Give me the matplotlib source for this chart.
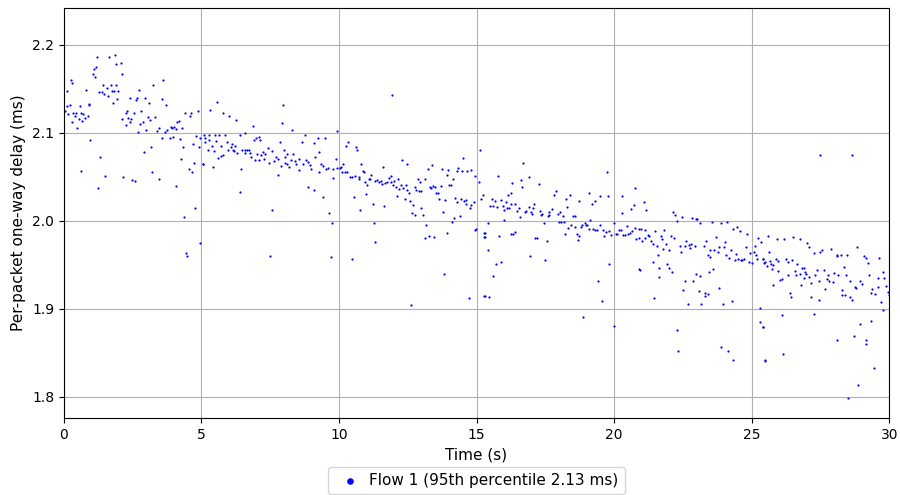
import matplotlib
matplotlib.use("Agg")
import matplotlib.pyplot as plt
import numpy as np

# per-packet samples, (time s, delay ms)
seg_a = [
    (1.22, 2.186), (1.65, 2.186), (1.87, 2.188), (2.06, 2.179), (1.90, 2.178), (1.15, 2.175),
    (1.10, 2.173), (1.07, 2.167), (1.14, 2.164), (2.10, 2.167), (0.25, 2.160), (0.29, 2.157),
    (0.12, 2.148), (0.80, 2.149), (1.41, 2.154), (1.55, 2.151), (1.71, 2.154), (1.89, 2.154),
    (1.28, 2.146), (1.38, 2.146), (1.45, 2.144), (1.60, 2.142), (1.75, 2.147), (1.82, 2.147),
    (1.98, 2.148), (2.74, 2.149), (1.94, 2.139), (1.77, 2.134), (2.41, 2.140), (2.64, 2.140),
    (2.62, 2.137), (2.93, 2.140), (3.09, 2.134), (3.25, 2.154), (3.61, 2.160), (3.58, 2.139),
    (3.71, 2.132), (0.10, 2.130), (0.23, 2.132), (0.58, 2.130), (0.90, 2.132), (0.93, 2.133),
    (0.05, 2.125), (0.15, 2.121), (0.32, 2.123), (0.45, 2.123), (0.61, 2.122), (0.70, 2.121),
    (0.39, 2.119), (0.56, 2.116), (0.65, 2.113), (0.75, 2.117), (0.87, 2.119), (0.28, 2.112),
    (0.48, 2.106), (2.24, 2.122), (2.29, 2.125), (2.12, 2.116), (2.34, 2.117), (2.45, 2.116),
    (2.39, 2.112), (2.25, 2.109), (2.55, 2.122), (2.80, 2.125), (2.86, 2.112), (2.76, 2.110),
    (3.07, 2.118), (3.13, 2.115), (3.32, 2.118), (2.70, 2.101), (2.99, 2.103), (3.39, 2.102),
    (3.47, 2.105), (3.55, 2.094), (3.68, 2.101), (3.76, 2.103), (3.89, 2.107), (3.93, 2.105),
    (3.99, 2.107), (4.12, 2.112), (4.17, 2.113), (4.08, 2.104), (4.29, 2.105), (4.41, 2.122),
    (4.58, 2.119), (4.61, 2.122), (4.87, 2.125), (3.85, 2.094), (3.95, 2.095), (4.23, 2.093),
    (4.80, 2.096), (4.95, 2.094), (5.09, 2.098), (4.70, 2.087), (4.90, 2.084), (4.33, 2.084),
    (3.15, 2.084), (2.90, 2.078), (0.96, 2.092), (1.32, 2.072), (4.25, 2.070), (4.74, 2.066),
    (5.07, 2.064), (4.55, 2.059), (4.64, 2.056), (3.22, 2.055), (3.44, 2.047), (4.06, 2.039),
    (0.63, 2.057), (1.48, 2.051), (2.16, 2.050), (2.48, 2.046), (2.58, 2.045), (1.25, 2.037),
    (4.76, 2.014), (4.38, 2.004), (4.93, 1.975), (4.45, 1.963), (4.48, 1.960),
]
seg_b = [
    (5.58, 2.135), (5.32, 2.126), (5.79, 2.122), (6.01, 2.119), (6.25, 2.114), (6.87, 2.108),
    (7.98, 2.132), (7.94, 2.111), (8.29, 2.103), (9.94, 2.102), (5.12, 2.094), (5.26, 2.098),
    (5.48, 2.097), (5.65, 2.097), (5.87, 2.097), (6.39, 2.097), (6.57, 2.100), (5.14, 2.089),
    (5.29, 2.092), (5.54, 2.091), (5.38, 2.085), (5.72, 2.085), (5.93, 2.089), (6.11, 2.087),
    (6.23, 2.085), (5.22, 2.081), (5.44, 2.079), (5.61, 2.071), (5.71, 2.074), (5.79, 2.075),
    (5.96, 2.081), (6.06, 2.084), (6.13, 2.081), (6.19, 2.079), (6.30, 2.077), (6.49, 2.080),
    (6.57, 2.080), (6.65, 2.081), (6.74, 2.081), (6.77, 2.077), (6.60, 2.077), (6.91, 2.092),
    (6.98, 2.094), (7.09, 2.095), (7.13, 2.092), (6.81, 2.073), (6.93, 2.069), (7.08, 2.069),
    (7.01, 2.076), (7.18, 2.075), (7.24, 2.078), (7.32, 2.076), (7.43, 2.083), (7.55, 2.079),
    (7.28, 2.070), (7.44, 2.066), (7.62, 2.068), (7.71, 2.072), (7.77, 2.070), (7.87, 2.090),
    (8.00, 2.081), (8.05, 2.073), (8.12, 2.076), (8.05, 2.066), (8.12, 2.064), (8.17, 2.061),
    (7.90, 2.062), (8.24, 2.069), (8.34, 2.076), (8.40, 2.068), (8.45, 2.064), (8.56, 2.070),
    (8.56, 2.058), (8.64, 2.090), (8.78, 2.098), (8.70, 2.064), (8.80, 2.069), (8.87, 2.067),
    (8.96, 2.063), (9.00, 2.059), (9.14, 2.072), (9.26, 2.056), (9.29, 2.078), (9.22, 2.094),
    (9.10, 2.088), (9.48, 2.094), (9.36, 2.064), (9.43, 2.062), (9.53, 2.059), (9.60, 2.060),
    (9.79, 2.059), (9.88, 2.070), (9.91, 2.060), (10.04, 2.060), (10.11, 2.056), (10.16, 2.064),
    (5.05, 2.064), (5.42, 2.061), (6.45, 2.059), (7.80, 2.052), (9.78, 2.049), (8.89, 2.038),
    (9.08, 2.035), (9.43, 2.027), (6.41, 2.033), (9.65, 2.009), (9.75, 1.997), (7.57, 2.012),
    (7.48, 1.960), (9.72, 1.959),
]
seg_c = [
    (10.27, 2.085), (10.33, 2.089), (10.62, 2.084), (10.65, 2.080), (10.09, 2.061), (10.21, 2.055),
    (10.29, 2.055), (10.40, 2.050), (10.46, 2.050), (10.58, 2.051), (10.74, 2.050), (10.72, 2.047),
    (10.81, 2.065), (10.87, 2.057), (10.91, 2.055), (11.01, 2.041), (10.93, 2.044), (11.08, 2.047),
    (11.15, 2.052), (11.13, 2.048), (11.30, 2.045), (11.38, 2.046), (11.46, 2.044), (11.54, 2.045),
    (11.56, 2.042), (11.61, 2.061), (11.68, 2.043), (11.76, 2.044), (11.83, 2.049), (11.88, 2.051),
    (11.89, 2.044), (11.98, 2.041), (12.01, 2.045), (12.07, 2.038), (12.17, 2.036), (12.15, 2.048),
    (12.24, 2.041), (12.30, 2.069), (12.34, 2.037), (12.42, 2.041), (12.46, 2.035), (12.49, 2.065),
    (12.56, 2.032), (12.78, 2.038), (12.81, 2.035), (12.88, 2.047), (12.94, 2.044), (12.92, 2.034),
    (12.97, 2.034), (13.11, 2.047), (13.24, 2.059), (13.39, 2.063), (13.29, 2.038), (13.33, 2.037),
    (13.43, 2.040), (13.50, 2.038), (13.54, 2.032), (13.60, 2.032), (13.62, 2.025), (13.72, 2.040),
    (13.76, 2.059), (13.91, 2.052), (13.98, 2.058), (14.01, 2.041), (14.08, 2.041), (14.13, 2.047),
    (14.28, 2.057), (14.34, 2.060), (14.47, 2.057), (14.50, 2.071), (14.65, 2.057), (14.79, 2.058),
    (14.94, 2.051), (15.08, 2.044), (15.14, 2.080), (15.25, 2.029), (15.17, 2.025), (13.85, 2.024),
    (14.23, 2.026), (14.30, 2.021), (14.42, 2.025), (14.56, 2.023), (14.60, 2.024), (14.63, 2.019),
    (14.75, 2.014), (14.81, 2.018), (14.89, 2.021), (12.10, 2.028), (12.39, 2.025), (12.58, 2.022),
    (12.70, 2.018), (12.66, 2.009), (12.75, 2.007), (12.99, 2.014), (13.07, 2.007), (11.23, 2.019),
    (11.65, 2.017), (10.98, 2.030), (10.55, 2.027), (10.76, 2.012), (11.26, 1.997), (11.32, 1.976),
    (10.48, 1.956), (13.18, 1.995), (13.13, 1.980), (13.27, 1.983), (13.46, 1.982), (13.79, 2.010),
    (13.94, 1.986), (14.11, 1.999), (14.17, 2.003), (14.39, 2.005), (14.93, 1.990), (14.97, 1.991),
    (15.28, 1.986), (15.26, 1.982), (13.82, 1.940), (14.72, 1.912), (12.62, 1.904), (15.28, 1.915),
    (11.93, 2.143),
]
seg_d = [
    (16.70, 2.066), (15.78, 2.051), (16.92, 2.050), (19.76, 2.055), (16.29, 2.043), (16.63, 2.046),
    (16.66, 2.038), (17.26, 2.042), (15.56, 2.025), (15.66, 2.022), (15.49, 2.017), (15.59, 2.017),
    (15.76, 2.016), (15.90, 2.024), (15.95, 2.017), (15.98, 2.012), (16.07, 2.021), (16.12, 2.015),
    (16.17, 2.014), (16.15, 2.029), (16.24, 2.019), (16.27, 2.032), (16.39, 2.019), (16.46, 2.011),
    (16.56, 2.015), (16.58, 2.004), (16.76, 2.010), (16.80, 2.011), (16.90, 2.016), (16.97, 2.010),
    (17.01, 2.008), (17.07, 2.014), (17.10, 2.019), (17.30, 2.011), (17.36, 2.007), (17.39, 2.008),
    (17.45, 1.998), (17.58, 2.005), (17.65, 2.006), (17.62, 2.010), (17.75, 2.013), (17.82, 2.029),
    (17.90, 2.034), (17.96, 2.008), (17.99, 1.999), (18.04, 2.010), (18.07, 1.999), (18.13, 2.005),
    (18.18, 1.999), (18.26, 2.025), (18.30, 2.016), (18.40, 2.029), (18.33, 1.992), (18.42, 1.995),
    (18.50, 2.005), (18.57, 2.005), (18.59, 1.993), (18.74, 2.022), (18.79, 1.993), (18.84, 1.995),
    (18.93, 1.998), (18.98, 1.995), (19.03, 1.995), (19.08, 2.032), (19.13, 2.001), (19.10, 1.991),
    (19.20, 2.019), (19.25, 1.991), (19.32, 2.022), (19.32, 1.989), (19.39, 1.989), (19.47, 1.995),
    (19.49, 2.028), (19.59, 1.989), (19.64, 1.983), (19.71, 1.987), (19.78, 2.028), (19.83, 1.988),
    (19.90, 1.984), (19.98, 1.998), (20.07, 1.985), (20.12, 1.985), (20.19, 1.989), (20.24, 1.989),
    (20.29, 2.028), (20.27, 2.009), (20.34, 1.984), (15.40, 1.998), (15.99, 2.001), (15.32, 1.986),
    (15.30, 1.982), (15.83, 1.983), (16.24, 1.985), (16.31, 1.985), (16.38, 1.987), (17.14, 1.980),
    (17.21, 1.980), (17.55, 1.977), (18.23, 1.985), (18.64, 1.985), (18.67, 1.978), (18.72, 1.983),
    (15.42, 1.967), (16.95, 1.960), (17.50, 1.955), (15.71, 1.951), (15.88, 1.953), (19.81, 1.951),
    (15.61, 1.937), (19.42, 1.931), (15.32, 1.915), (15.44, 1.913), (19.56, 1.909), (18.88, 1.891),
    (20.00, 1.880),
]
seg_e = [
    (20.75, 2.037), (21.07, 2.021), (20.72, 2.018), (20.63, 2.013), (21.16, 2.012), (22.14, 2.010),
    (22.23, 2.007), (22.48, 2.004), (22.30, 2.000), (22.82, 2.003), (22.96, 2.002), (23.02, 2.002),
    (23.11, 1.998), (23.56, 1.999), (23.88, 1.998), (24.12, 1.999), (20.46, 1.994), (20.41, 1.984),
    (20.51, 1.985), (20.58, 1.986), (20.66, 1.988), (20.77, 1.992), (20.90, 1.991), (20.98, 1.991),
    (21.11, 1.989), (20.80, 1.979), (20.92, 1.980), (21.02, 1.977), (21.14, 1.980), (21.24, 1.984),
    (21.28, 1.983), (21.33, 1.977), (21.41, 1.974), (21.50, 1.988), (21.55, 1.971), (21.72, 1.983),
    (21.75, 1.979), (21.82, 1.990), (21.89, 1.974), (21.79, 1.968), (22.01, 1.967), (22.08, 1.983),
    (22.18, 1.980), (22.40, 1.971), (22.45, 1.965), (22.57, 1.971), (22.62, 1.977), (22.72, 1.972),
    (22.76, 1.969), (22.79, 1.974), (22.93, 1.971), (23.25, 1.971), (23.35, 1.977), (23.49, 1.967),
    (23.40, 1.961), (23.47, 1.959), (23.64, 1.967), (23.71, 1.981), (23.76, 1.964), (23.81, 1.970),
    (23.98, 1.970), (24.03, 1.976), (24.07, 1.961), (24.17, 1.958), (24.24, 1.967), (24.32, 1.991),
    (24.46, 1.993), (24.56, 1.988), (24.44, 1.962), (24.41, 1.955), (24.51, 1.956), (24.61, 1.955),
    (24.66, 1.955), (24.73, 1.956), (24.78, 1.970), (24.83, 1.985), (24.90, 1.953), (24.95, 1.963),
    (25.00, 1.952), (25.07, 1.965), (25.12, 1.971), (25.14, 1.961), (25.19, 1.957), (25.24, 1.980),
    (25.33, 1.976), (25.43, 1.957), (25.45, 1.952), (21.43, 1.953), (21.60, 1.961), (21.65, 1.946),
    (21.62, 1.936), (21.94, 1.951), (21.99, 1.946), (22.11, 1.942), (20.92, 1.945), (20.95, 1.944),
    (22.59, 1.932), (22.88, 1.931), (22.98, 1.940), (23.13, 1.937), (23.08, 1.920), (23.32, 1.918),
    (23.42, 1.917), (23.30, 1.914), (23.59, 1.945), (23.45, 1.942), (22.49, 1.921), (23.83, 1.923),
    (24.27, 1.909), (21.45, 1.912), (22.67, 1.905), (23.17, 1.905), (23.95, 1.905), (25.29, 1.901),
    (25.31, 1.885), (25.41, 1.879), (22.28, 1.876), (22.33, 1.852), (23.90, 1.856), (24.14, 1.852),
    (24.34, 1.842), (25.47, 1.842),
]
seg_f = [
    (25.60, 1.983), (25.92, 1.979), (26.18, 1.979), (26.50, 1.981), (26.74, 1.979), (27.01, 1.975),
    (27.10, 1.970), (27.27, 1.963), (27.49, 1.965), (27.56, 1.967), (27.90, 1.968), (28.10, 1.960),
    (28.12, 1.961), (28.24, 1.961), (28.46, 1.961), (28.82, 1.970), (29.09, 1.960), (29.14, 1.958),
    (29.24, 1.952), (29.63, 1.958), (29.77, 1.942), (29.82, 1.935), (29.89, 1.926), (29.94, 1.919),
    (29.99, 1.916), (25.63, 1.965), (25.43, 1.957), (25.48, 1.953), (25.55, 1.949), (25.65, 1.954),
    (25.72, 1.951), (25.79, 1.950), (25.89, 1.957), (25.96, 1.954), (25.74, 1.945), (25.94, 1.943),
    (26.25, 1.956), (26.33, 1.953), (26.47, 1.955), (26.64, 1.951), (26.57, 1.943), (26.62, 1.938),
    (26.76, 1.940), (26.84, 1.946), (26.89, 1.946), (26.93, 1.942), (26.98, 1.939), (26.91, 1.935),
    (27.08, 1.936), (27.32, 1.938), (27.39, 1.944), (27.44, 1.932), (27.64, 1.944), (27.74, 1.934),
    (27.78, 1.938), (27.81, 1.932), (27.95, 1.930), (28.00, 1.941), (28.14, 1.938), (28.34, 1.948),
    (28.44, 1.938), (28.56, 1.932), (28.75, 1.925), (28.80, 1.923), (28.95, 1.932), (29.00, 1.928),
    (29.26, 1.938), (29.38, 1.922), (29.48, 1.917), (29.58, 1.935), (29.58, 1.925), (29.33, 1.918),
    (26.04, 1.933), (26.09, 1.934), (25.79, 1.927), (26.31, 1.938), (26.79, 1.927), (27.15, 1.929),
    (27.66, 1.922), (26.40, 1.918), (26.42, 1.913), (27.17, 1.913), (27.46, 1.910), (28.27, 1.921),
    (28.29, 1.916), (28.41, 1.916), (28.58, 1.913), (28.63, 1.910), (29.72, 1.908), (29.77, 1.898),
    (26.11, 1.893), (27.25, 1.894), (25.41, 1.879), (28.95, 1.883), (29.33, 1.886), (28.09, 1.865),
    (28.73, 1.869), (29.14, 1.865), (29.16, 1.860), (26.13, 1.849), (25.50, 1.841), (29.43, 1.833),
    (28.85, 1.813), (28.51, 1.798), (27.49, 2.075), (28.65, 2.075),
]

pts = np.array(seg_a + seg_b + seg_c + seg_d + seg_e + seg_f)
times = pts[:, 0]
delays = pts[:, 1]
label = "Flow 1 (95th percentile 2.13 ms)"

fig, ax = plt.subplots(figsize=(9, 4.95), dpi=100)
ax.scatter(times, delays, s=2.5, c="blue", marker="o", linewidths=0, label=label)

ax.set_xlim(0, 30)
ax.set_ylim(1.776, 2.242)
ax.set_yticks([1.8, 1.9, 2.0, 2.1, 2.2])
ax.grid(True, color="#b0b0b0", lw=0.8)
ax.set_axisbelow(True)
ax.tick_params(labelsize=10)
ax.set_xlabel("Time (s)", fontsize=11)
ax.set_ylabel("Per-packet one-way delay (ms)", fontsize=11)

ax.legend(loc="upper center", bbox_to_anchor=(0.5, -0.108), markerscale=3,
          fontsize=11, frameon=True, handletextpad=0.3, borderaxespad=0.3)

fig.subplots_adjust(left=0.071, right=0.988, top=0.984, bottom=0.156)
fig.savefig("out.png", dpi=100)
